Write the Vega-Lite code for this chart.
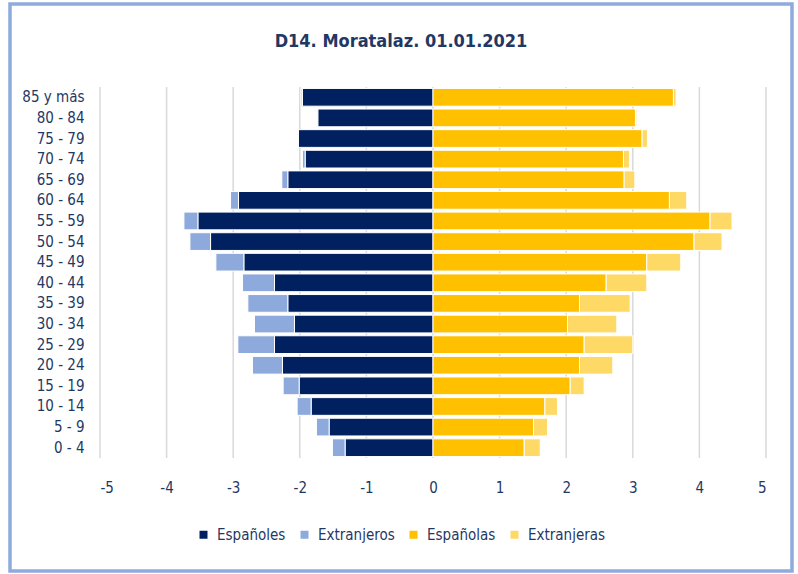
{
  "$schema": "https://vega.github.io/schema/vega-lite/v6.json",
  "width": 782,
  "height": 567,
  "autosize": {"type": "none"},
  "padding": {"left": 10, "top": 4, "right": 6, "bottom": 3},
  "background": "white",
  "config": {
    "view": {"stroke": "#8FAADC", "strokeWidth": 3.5},
    "font": "Liberation Sans Narrow, DejaVu Sans Condensed, sans-serif"
  },
  "title": {
    "text": "D14. Moratalaz. 01.01.2021",
    "fontSize": 18,
    "fontWeight": "bold",
    "color": "#1F3864",
    "offset": -47,
    "anchor": "middle"
  },
  "datasets": {
    "grid": [
      {"v": -5}, {"v": -4}, {"v": -3}, {"v": -2}, {"v": -1}, {"v": 0},
      {"v": 1}, {"v": 2}, {"v": 3}, {"v": 4}, {"v": 5}
    ],
    "pob": [
      {"edad": "85 y más", "grupo": "Españoles", "valor": -1.96},
      {"edad": "85 y más", "grupo": "Extranjeros", "valor": -0.02},
      {"edad": "85 y más", "grupo": "Españolas", "valor": 3.61},
      {"edad": "85 y más", "grupo": "Extranjeras", "valor": 0.04},
      {"edad": "80 - 84", "grupo": "Españoles", "valor": -1.73},
      {"edad": "80 - 84", "grupo": "Extranjeros", "valor": -0.01},
      {"edad": "80 - 84", "grupo": "Españolas", "valor": 3.04},
      {"edad": "80 - 84", "grupo": "Extranjeras", "valor": 0.02},
      {"edad": "75 - 79", "grupo": "Españoles", "valor": -2.02},
      {"edad": "75 - 79", "grupo": "Extranjeros", "valor": -0.01},
      {"edad": "75 - 79", "grupo": "Españolas", "valor": 3.14},
      {"edad": "75 - 79", "grupo": "Extranjeras", "valor": 0.08},
      {"edad": "70 - 74", "grupo": "Españoles", "valor": -1.92},
      {"edad": "70 - 74", "grupo": "Extranjeros", "valor": -0.04},
      {"edad": "70 - 74", "grupo": "Españolas", "valor": 2.86},
      {"edad": "70 - 74", "grupo": "Extranjeras", "valor": 0.09},
      {"edad": "65 - 69", "grupo": "Españoles", "valor": -2.18},
      {"edad": "65 - 69", "grupo": "Extranjeros", "valor": -0.09},
      {"edad": "65 - 69", "grupo": "Españolas", "valor": 2.87},
      {"edad": "65 - 69", "grupo": "Extranjeras", "valor": 0.16},
      {"edad": "60 - 64", "grupo": "Españoles", "valor": -2.92},
      {"edad": "60 - 64", "grupo": "Extranjeros", "valor": -0.12},
      {"edad": "60 - 64", "grupo": "Españolas", "valor": 3.55},
      {"edad": "60 - 64", "grupo": "Extranjeras", "valor": 0.26},
      {"edad": "55 - 59", "grupo": "Españoles", "valor": -3.53},
      {"edad": "55 - 59", "grupo": "Extranjeros", "valor": -0.21},
      {"edad": "55 - 59", "grupo": "Españolas", "valor": 4.16},
      {"edad": "55 - 59", "grupo": "Extranjeras", "valor": 0.33},
      {"edad": "50 - 54", "grupo": "Españoles", "valor": -3.34},
      {"edad": "50 - 54", "grupo": "Extranjeros", "valor": -0.31},
      {"edad": "50 - 54", "grupo": "Españolas", "valor": 3.92},
      {"edad": "50 - 54", "grupo": "Extranjeras", "valor": 0.42},
      {"edad": "45 - 49", "grupo": "Españoles", "valor": -2.84},
      {"edad": "45 - 49", "grupo": "Extranjeros", "valor": -0.42},
      {"edad": "45 - 49", "grupo": "Españolas", "valor": 3.21},
      {"edad": "45 - 49", "grupo": "Extranjeras", "valor": 0.51},
      {"edad": "40 - 44", "grupo": "Españoles", "valor": -2.38},
      {"edad": "40 - 44", "grupo": "Extranjeros", "valor": -0.48},
      {"edad": "40 - 44", "grupo": "Españolas", "valor": 2.60},
      {"edad": "40 - 44", "grupo": "Extranjeras", "valor": 0.61},
      {"edad": "35 - 39", "grupo": "Españoles", "valor": -2.18},
      {"edad": "35 - 39", "grupo": "Extranjeros", "valor": -0.60},
      {"edad": "35 - 39", "grupo": "Españolas", "valor": 2.20},
      {"edad": "35 - 39", "grupo": "Extranjeras", "valor": 0.76},
      {"edad": "30 - 34", "grupo": "Españoles", "valor": -2.08},
      {"edad": "30 - 34", "grupo": "Extranjeros", "valor": -0.60},
      {"edad": "30 - 34", "grupo": "Españolas", "valor": 2.02},
      {"edad": "30 - 34", "grupo": "Extranjeras", "valor": 0.74},
      {"edad": "25 - 29", "grupo": "Españoles", "valor": -2.38},
      {"edad": "25 - 29", "grupo": "Extranjeros", "valor": -0.55},
      {"edad": "25 - 29", "grupo": "Españolas", "valor": 2.27},
      {"edad": "25 - 29", "grupo": "Extranjeras", "valor": 0.73},
      {"edad": "20 - 24", "grupo": "Españoles", "valor": -2.26},
      {"edad": "20 - 24", "grupo": "Extranjeros", "valor": -0.45},
      {"edad": "20 - 24", "grupo": "Españolas", "valor": 2.20},
      {"edad": "20 - 24", "grupo": "Extranjeras", "valor": 0.50},
      {"edad": "15 - 19", "grupo": "Españoles", "valor": -2.01},
      {"edad": "15 - 19", "grupo": "Extranjeros", "valor": -0.24},
      {"edad": "15 - 19", "grupo": "Españolas", "valor": 2.06},
      {"edad": "15 - 19", "grupo": "Extranjeras", "valor": 0.21},
      {"edad": "10 - 14", "grupo": "Españoles", "valor": -1.83},
      {"edad": "10 - 14", "grupo": "Extranjeros", "valor": -0.21},
      {"edad": "10 - 14", "grupo": "Españolas", "valor": 1.68},
      {"edad": "10 - 14", "grupo": "Extranjeras", "valor": 0.19},
      {"edad": "5 - 9", "grupo": "Españoles", "valor": -1.56},
      {"edad": "5 - 9", "grupo": "Extranjeros", "valor": -0.19},
      {"edad": "5 - 9", "grupo": "Españolas", "valor": 1.51},
      {"edad": "5 - 9", "grupo": "Extranjeras", "valor": 0.21},
      {"edad": "0 - 4", "grupo": "Españoles", "valor": -1.32},
      {"edad": "0 - 4", "grupo": "Extranjeros", "valor": -0.19},
      {"edad": "0 - 4", "grupo": "Españolas", "valor": 1.37},
      {"edad": "0 - 4", "grupo": "Extranjeras", "valor": 0.24}
    ]
  },
  "layer": [
    {
      "data": {"name": "grid"},
      "mark": {"type": "rule", "color": "#D9D9D9", "strokeWidth": 1.5},
      "encoding": {
        "x": {
          "field": "v",
          "type": "quantitative",
          "scale": {"domain": [-5, 5], "range": [90, 756], "nice": false, "zero": false},
          "axis": {
            "values": [-5, -4, -3, -2, -1, 0, 1, 2, 3, 4, 5],
            "grid": false,
            "ticks": false,
            "domain": false,
            "offset": -95,
            "labelPadding": 4,
            "labelFontSize": 15,
            "labelColor": "#1F3864",
            "title": null,
            "labelExpr": "datum.value < 0 ? '-' + abs(datum.value) : '' + datum.value"
          }
        },
        "y": {"datum": 0, "type": "quantitative", "scale": {"domain": [0, 1], "range": [83, 454]}, "axis": null},
        "y2": {"datum": 1}
      }
    },
    {
      "data": {"name": "pob"},
      "mark": {"type": "bar", "stroke": "white", "strokeWidth": 1},
      "encoding": {
        "y": {
          "field": "edad",
          "type": "nominal",
          "sort": ["85 y más", "80 - 84", "75 - 79", "70 - 74", "65 - 69", "60 - 64", "55 - 59", "50 - 54", "45 - 49", "40 - 44", "35 - 39", "30 - 34", "25 - 29", "20 - 24", "15 - 19", "10 - 14", "5 - 9", "0 - 4"],
          "scale": {"range": [83, 454], "paddingInner": 0.14, "paddingOuter": 0.07},
          "axis": {
            "title": null,
            "ticks": false,
            "domain": false,
            "grid": false,
            "offset": -76,
            "labelPadding": 2,
            "labelFontSize": 15,
            "labelColor": "#1F3864"
          }
        },
        "x": {
          "field": "valor",
          "type": "quantitative",
          "stack": "zero",
          "axis": {
            "values": [-5, -4, -3, -2, -1, 0, 1, 2, 3, 4, 5],
            "grid": false,
            "ticks": false,
            "domain": false,
            "offset": -95,
            "labelPadding": 4,
            "labelFontSize": 15,
            "labelColor": "#1F3864",
            "title": null,
            "labelExpr": "datum.value < 0 ? '-' + abs(datum.value) : '' + datum.value"
          }
        },
        "color": {
          "field": "grupo",
          "type": "nominal",
          "scale": {
            "domain": ["Españoles", "Extranjeros", "Españolas", "Extranjeras"],
            "range": ["#002060", "#8EA9DB", "#FFC000", "#FFD966"]
          },
          "legend": {
            "title": null,
            "orient": "none",
            "legendX": 186,
            "legendY": 523,
            "direction": "horizontal",
            "symbolType": "square",
            "symbolSize": 64,
            "symbolStrokeWidth": 0,
            "labelFontSize": 15,
            "labelColor": "#1F3864",
            "columnPadding": 11,
            "labelOffset": 6,
            "padding": 0
          }
        },
        "order": {"field": "grupo", "sort": "ascending"}
      }
    }
  ],
  "resolve": {"scale": {"y": "independent"}}
}
